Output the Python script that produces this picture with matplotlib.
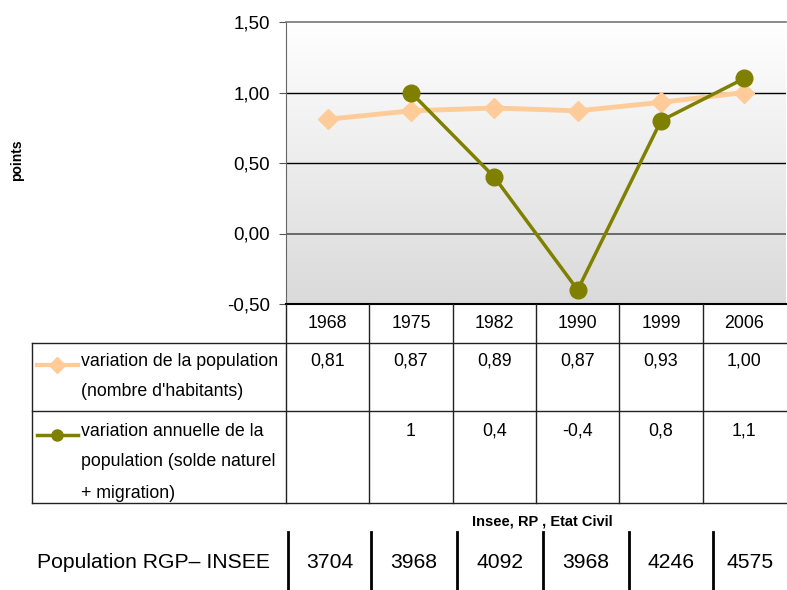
import matplotlib
matplotlib.use("Agg")
import matplotlib.pyplot as plt
import numpy as np

plt.rcParams['font.family'] = ['Liberation Sans', 'DejaVu Sans']

years = ["1968", "1975", "1982", "1990", "1999", "2006"]
var_pop = [0.81, 0.87, 0.89, 0.87, 0.93, 1.00]
var_ann = [np.nan, 1.0, 0.4, -0.4, 0.8, 1.1]
var_pop_txt = ["0,81", "0,87", "0,89", "0,87", "0,93", "1,00"]
var_ann_txt = ["", "1", "0,4", "-0,4", "0,8", "1,1"]
population = ["3704", "3968", "4092", "3968", "4246", "4575"]
yticks = [-0.5, 0.0, 0.5, 1.0, 1.5]

label1 = ["variation de la population", "(nombre d'habitants)"]
label2 = ["variation annuelle de la", "population (solde naturel", "+ migration)"]

c_pop = "#ffcc99"
c_ann = "#808000"

W, H = 787, 590
fig = plt.figure(figsize=(W / 100, H / 100), dpi=100)

# plot area in pixels
L, R, T, B = 286, 786, 22, 304
ax = fig.add_axes([L / W, 1 - B / H, (R - L) / W, (B - T) / H])
x = np.arange(len(years))
ax.set_xlim(-0.5, len(years) - 0.5)
ax.set_ylim(-0.5, 1.5)

# gradient background
grad = np.linspace(0, 1, 256).reshape(-1, 1)
ax.imshow(grad, extent=[-0.5, len(years) - 0.5, -0.5, 1.5], aspect='auto',
          cmap=matplotlib.colors.LinearSegmentedColormap.from_list('g', ['#dadada', '#ffffff']),
          origin='lower', zorder=0)

for v in [0.5, 1.0]:
    ax.axhline(v, color='black', lw=1, zorder=1)
ax.axhline(0.0, color='#555555', lw=1.2, zorder=1)

ax.plot(x, var_pop, color=c_pop, lw=3.5, marker='D', ms=10, zorder=3)
ax.plot(x, var_ann, color=c_ann, lw=2.5, marker='o', ms=12, zorder=4)

ax.set_yticks(yticks)
ax.set_yticklabels([f"{v:.2f}".replace('.', ',') for v in yticks], fontsize=13.5)
ax.set_xticks([])
ax.tick_params(axis='y', length=5, color='#555555', pad=6.5)
for s in ['right', 'bottom']:
    ax.spines[s].set_visible(False)
ax.spines['left'].set_color('#666666')
ax.spines['top'].set_color('#777777')
ax.spines['top'].set_linewidth(1.2)
ax.axhline(-0.5, color='black', lw=1.5, zorder=5, clip_on=False)

fig.text(17 / W, 1 - 160 / H, "points", rotation=90, fontsize=10, fontweight='bold',
         ha='center', va='center')

# overlay axes in pixel coordinates for the data table
tx = fig.add_axes([0, 0, 1, 1])
tx.set_xlim(0, W)
tx.set_ylim(H, 0)
tx.axis('off')

colw = (R - L) / len(years)
edges = [L + i * colw for i in range(len(years) + 1)]
centers = [L + (i + 0.5) * colw for i in range(len(years))]

r0, r1, r2, r3 = 304, 343, 411, 503
lc = '#222222'
for e in edges[:-1]:
    tx.plot([e, e], [r0, r3], color=lc, lw=1)
tx.plot([32, 32], [r1, r3], color=lc, lw=1)
for yy in [r1, r2, r3]:
    tx.plot([32, W], [yy, yy], color=lc, lw=1)

fs = 12.8
for i, c in enumerate(centers):
    tx.text(c, 324, years[i], ha='center', va='center', fontsize=fs)
    tx.text(c, 361, var_pop_txt[i], ha='center', va='center', fontsize=fs)
    tx.text(c, 431, var_ann_txt[i], ha='center', va='center', fontsize=fs)

# legend keys inside the table
tx.plot([37, 78], [365, 365], color=c_pop, lw=3)
tx.plot([57], [365], marker='D', color=c_pop, ms=8)
tx.plot([37, 78], [435, 435], color=c_ann, lw=2.5)
tx.plot([57], [435], marker='o', color=c_ann, ms=8)
for k, line in enumerate(label1):
    tx.text(81, 361 + 30 * k, line, ha='left', va='center', fontsize=fs)
for k, line in enumerate(label2):
    tx.text(81, 431 + 31 * k, line, ha='left', va='center', fontsize=fs)

tx.text(542, 522, "Insee, RP , Etat Civil", ha='center', va='center', fontsize=10.5,
        fontweight='bold')

# population row
bx = [288, 371, 457, 543, 629, 713, W]
for e in bx[:-1]:
    tx.plot([e, e], [532, H], color='black', lw=2)
tx.text(37, 563, "Population RGP\u2013 INSEE", ha='left', va='center', fontsize=15.2)
for i in range(len(years)):
    tx.text((bx[i] + bx[i + 1]) / 2, 563, population[i], ha='center', va='center', fontsize=15.2)

fig.savefig("out.png", dpi=100)
